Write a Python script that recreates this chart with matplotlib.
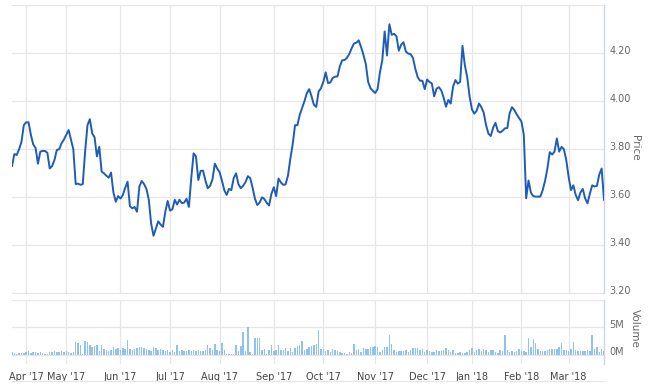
import numpy as np
import pandas as pd
import matplotlib
matplotlib.use("Agg")
import matplotlib.pyplot as plt
from matplotlib.transforms import ScaledTranslation
from matplotlib.lines import Line2D

# ASX trading calendar (holidays removed)
holidays = ["2017-04-14", "2017-04-17", "2017-04-25", "2017-06-12",
            "2017-12-25", "2017-12-26", "2018-01-01", "2018-01-26"]
dates = pd.bdate_range("2017-03-24", "2018-03-22")
dates = dates[~dates.isin(pd.to_datetime(holidays))]

price = [
    3.73, 3.78, 3.776, 3.80, 3.83, 3.90, 3.912, 3.912, 3.86, 3.82,
    3.805, 3.74, 3.79, 3.793, 3.793, 3.785, 3.72, 3.73, 3.755, 3.797,
    3.80, 3.825, 3.84, 3.86, 3.88, 3.84, 3.80, 3.655, 3.657, 3.652,
    3.655, 3.79, 3.90, 3.925, 3.866, 3.85, 3.77, 3.81, 3.707, 3.70,
    3.69, 3.682, 3.703, 3.62, 3.582, 3.605, 3.595, 3.61, 3.64, 3.665,
    3.563, 3.554, 3.56, 3.54, 3.645, 3.668, 3.655, 3.635, 3.59, 3.49,
    3.44, 3.47, 3.50, 3.487, 3.477, 3.54, 3.585, 3.545, 3.55, 3.59,
    3.57, 3.59, 3.576, 3.578, 3.594, 3.56, 3.68, 3.783, 3.77, 3.672,
    3.71, 3.711, 3.67, 3.638, 3.648, 3.675, 3.74, 3.72, 3.705, 3.67,
    3.63, 3.61, 3.635, 3.63, 3.68, 3.70, 3.655, 3.638, 3.648, 3.663,
    3.688, 3.68, 3.64, 3.595, 3.568, 3.578, 3.60, 3.593, 3.577, 3.566,
    3.615, 3.642, 3.605, 3.678, 3.662, 3.652, 3.654, 3.69, 3.76, 3.82,
    3.90, 3.90, 3.943, 3.972, 4.00, 4.033, 4.05, 4.02, 3.985, 3.976,
    4.04, 4.054, 4.08, 4.12, 4.075, 4.078, 4.097, 4.102, 4.103, 4.145,
    4.17, 4.171, 4.18, 4.196, 4.22, 4.24, 4.243, 4.253, 4.225, 4.193,
    4.155, 4.08, 4.054, 4.043, 4.034, 4.05, 4.12, 4.17, 4.29, 4.19,
    4.32, 4.276, 4.28, 4.27, 4.21, 4.235, 4.245, 4.206, 4.198, 4.195,
    4.18, 4.135, 4.10, 4.085, 4.085, 4.05, 4.09, 4.08, 4.074, 4.02,
    4.052, 4.058, 4.045, 4.015, 3.977, 4.005, 3.99, 4.06, 4.088, 4.073,
    4.08, 4.23, 4.15, 4.10, 4.02, 3.966, 3.948, 3.96, 3.99, 3.975,
    3.952, 3.90, 3.865, 3.855, 3.89, 3.91, 3.875, 3.87, 3.877, 3.887,
    3.888, 3.95, 3.975, 3.963, 3.945, 3.93, 3.915, 3.86, 3.596, 3.67,
    3.62, 3.605, 3.603, 3.603, 3.603, 3.63, 3.668, 3.72, 3.788, 3.778,
    3.79, 3.845, 3.79, 3.81, 3.80, 3.755, 3.685, 3.63, 3.65, 3.61,
    3.588, 3.62, 3.635, 3.596, 3.575, 3.615, 3.65, 3.645, 3.648, 3.695,
    3.72, 3.59,
]

volume_m = [
    0.5, 0.3, 0.2, 0.3, 0.3, 0.4, 0.5, 0.75, 0.4, 0.6,
    0.5, 0.3, 0.55, 0.4, 0.1, 0.2, 0.6, 0.5, 0.7, 0.5,
    0.6, 0.7, 0.5, 0.75, 0.5, 0.4, 0.5, 2.4, 2.2, 1.9,
    0.2, 2.5, 2.3, 1.9, 1.4, 1.6, 1.9, 0.8, 1.9, 1.0,
    0.9, 0.8, 0.9, 1.4, 1.1, 1.2, 0.9, 1.25, 1.0, 2.8,
    1.1, 0.9, 1.0, 1.25, 1.45, 1.45, 1.25, 1.1, 0.9, 0.7,
    1.45, 1.25, 0.95, 1.1, 0.9, 0.75, 0.9, 0.6, 0.9, 0.6,
    1.75, 0.8, 0.9, 0.75, 0.7, 0.9, 0.8, 0.9, 0.7, 0.9,
    0.75, 0.8, 0.9, 1.9, 1.25, 0.9, 2.0, 0.9, 0.8, 2.1,
    0.9, 0.2, 0.1, 0.15, 0.2, 1.9, 0.8, 1.6, 4.1, 0.7,
    5.0, 0.6, 0.2, 3.1, 3.1, 3.1, 0.9, 1.0, 0.2, 0.9,
    1.75, 0.75, 0.9, 1.75, 0.9, 0.9, 1.25, 0.75, 1.25, 0.6,
    1.25, 1.7, 1.9, 2.5, 0.9, 1.1, 1.4, 1.6, 1.9, 2.0,
    4.6, 1.1, 1.0, 0.8, 0.9, 0.6, 1.0, 0.9, 0.8, 0.6,
    0.3, 0.3, 0.2, 0.6, 0.3, 2.0, 0.9, 1.0, 0.6, 1.25,
    1.1, 1.1, 1.4, 1.4, 1.6, 1.4, 0.6, 0.9, 1.4, 1.4,
    3.6, 2.0, 0.9, 0.6, 0.8, 0.8, 0.8, 0.9, 0.6, 0.9,
    1.2, 1.25, 1.25, 0.9, 1.0, 0.6, 0.9, 0.8, 0.6, 0.6,
    0.9, 0.8, 0.8, 0.9, 1.25, 0.9, 0.6, 0.9, 0.4, 0.3,
    0.6, 0.4, 0.3, 0.6, 0.9, 1.25, 0.6, 0.9, 1.0, 0.8,
    1.0, 0.9, 0.6, 0.9, 0.9, 0.5, 0.4, 0.9, 0.8, 3.6,
    0.9, 0.6, 0.8, 0.6, 0.8, 1.0, 0.8, 0.8, 0.5, 3.1,
    1.5, 2.9, 2.1, 1.0, 0.8, 0.8, 0.8, 0.9, 1.0, 1.0,
    1.1, 1.0, 1.4, 2.1, 0.9, 0.9, 0.8, 1.0, 2.3, 0.9,
    0.8, 0.8, 0.8, 0.8, 0.9, 0.8, 3.6, 1.0, 1.4, 0.6,
    1.0, 0.8,
]

price_ticks = [3.20, 3.40, 3.60, 3.80, 4.00, 4.20, 4.40]
price_tick_labels = ["3.20", "3.40", "3.60", "3.80", "4.00", "4.20", ""]
volume_ticks = [0, 5, 10]
volume_tick_labels = ["0M", "5M", ""]

n = min(len(price), len(volume_m), len(dates))
dates = dates[:n]
xs = np.arange(n)

# month ticks at first trading day of each month (from April 2017)
month_pos, month_lab = [], []
for i in range(1, n):
    if dates[i].month != dates[i - 1].month:
        month_pos.append(i)
        month_lab.append(dates[i].strftime("%b '%y"))

W, H = 650, 386
fig = plt.figure(figsize=(W / 100, H / 100), dpi=100)
fig.patch.set_facecolor("white")

L, R = 12, 604
ax1 = fig.add_axes([L / W, (H - 293.5) / H, (R - L) / W, 288.5 / H])
ax2 = fig.add_axes([L / W, (H - 364) / H, (R - L) / W, 64 / H])

line_color = "#1f5cb6"
bar_color = "#8fc1f2"
grid_color = "#e6e6e6"
axis_color = "#ccd6eb"
label_color = "#666666"

ax1.plot(xs, price[:n], color=line_color, lw=1.4, solid_joinstyle="round", zorder=3)
ax2.bar(xs, volume_m[:n], width=0.62, color=bar_color, edgecolor="none", zorder=3)

ax1.set_ylim(3.20, 4.40)
ax2.set_ylim(-1.64, 10)
for ax in (ax1, ax2):
    ax.set_xlim(0, n - 1)
    ax.set_xticks(month_pos)
    ax.grid(True, color=grid_color, lw=0.9, zorder=0)
    ax.set_axisbelow(True)
    for s in ("top", "left", "bottom"):
        ax.spines[s].set_visible(False)
    ax.spines["right"].set_color(axis_color)
    ax.spines["right"].set_linewidth(1.0)
    ax.yaxis.tick_right()
    ax.tick_params(axis="both", length=0, labelsize=7, labelcolor=label_color)
    ax.tick_params(axis="y", pad=4)

ax1.set_yticks(price_ticks)
ax1.set_yticklabels(price_tick_labels)
ax1.set_xticklabels([])
ax2.set_yticks(volume_ticks)
ax2.set_yticklabels(volume_tick_labels)
ax2.set_xticklabels(month_lab)
ax2.tick_params(axis="x", pad=6, labelcolor="#444444")

shift = ScaledTranslation(0, 3.5 / 100, fig.dpi_scale_trans)
for ax in (ax1, ax2):
    for lab in ax.get_yticklabels():
        lab.set_transform(lab.get_transform() + shift)

fig.text(635 / W, 1 - 148 / H, "Price", rotation=-90, ha="center", va="center",
         fontsize=7.5, color=label_color)
fig.text(635 / W, 1 - 328 / H, "Volume", rotation=-90, ha="center", va="center",
         fontsize=7.5, color=label_color)

fig.add_artist(Line2D([L / W, R / W], [1 - 381 / H] * 2, color=grid_color, lw=0.9))

fig.savefig("out.png", dpi=100, facecolor="white")
